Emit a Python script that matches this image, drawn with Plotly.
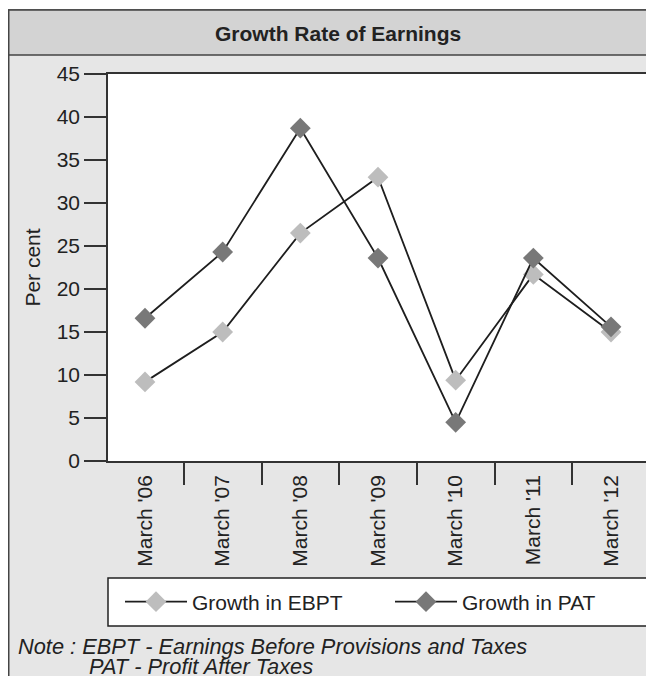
import plotly.graph_objects as go

# ======================================================
# Data
# ======================================================
categories = ["March '06", "March '07", "March '08", "March '09",
              "March '10", "March '11", "March '12"]
growth_ebpt = [9.2, 15.0, 26.5, 33.0, 9.4, 21.7, 15.0]
growth_pat = [16.6, 24.3, 38.7, 23.6, 4.5, 23.6, 15.6]

# ======================================================
# Geometry helpers
# page has an 8px body margin, so the figure is 646x668
# and reference pixel coords are shifted by 8
# ======================================================
OFF = 8
W, H = 654 - OFF, 676 - OFF
L, R, T, B = 108 - OFF, 648 - OFF, 74 - OFF, 461 - OFF


def px(x):
    # reference pixel x -> paper
    return (x - OFF - L) / (R - L)


def py(y):
    # reference pixel y -> paper
    return (B - (y - OFF)) / (B - T)


FONT = "Liberation Sans, Arial, Helvetica, sans-serif"
INK = "#222222"
LINE = "#1e1e1e"

fig = go.Figure()

fig.add_trace(
    go.Scatter(
        x=categories,
        y=growth_ebpt,
        mode="lines+markers",
        name="Growth in EBPT",
        legend="legend",
        line=dict(color=LINE, width=1.8),
        marker=dict(symbol="diamond", size=16, color="#bdbdbd"),
    )
)

fig.add_trace(
    go.Scatter(
        x=categories,
        y=growth_pat,
        mode="lines+markers",
        name="Growth in PAT",
        legend="legend2",
        line=dict(color=LINE, width=1.8),
        marker=dict(symbol="diamond", size=16, color="#787878"),
    )
)

# ======================================================
# Frame decorations
# ======================================================
shapes = [
    # white strip above the frame
    dict(type="rect", xref="paper", yref="paper",
         x0=px(0), x1=px(700), y0=py(0), y1=py(10),
         fillcolor="white", line=dict(width=0), layer="below"),
    # outer frame border
    dict(type="rect", xref="paper", yref="paper",
         x0=px(8.75), x1=px(700), y0=py(10), y1=py(720),
         line=dict(color="#444444", width=1.5), layer="below"),
    # title band
    dict(type="rect", xref="paper", yref="paper",
         x0=px(8.75), x1=px(700), y0=py(10), y1=py(55),
         fillcolor="#d3d3d3", line=dict(color="#444444", width=1.5),
         layer="below"),
    # legend box
    dict(type="rect", xref="paper", yref="paper",
         x0=px(108), x1=px(648), y0=py(578), y1=py(626),
         fillcolor="white", line=dict(color="#222222", width=1.5),
         layer="below"),
]

annotations = [
    dict(text="<b>Growth Rate of Earnings</b>", xref="paper", yref="paper",
         x=px(338), y=py(33), xanchor="center", yanchor="middle",
         showarrow=False, font=dict(size=21, color=INK, family=FONT)),
    dict(text="<i>Note : EBPT - Earnings Before Provisions and Taxes</i>",
         xref="paper", yref="paper", x=px(16), y=py(646),
         xanchor="left", yanchor="middle", showarrow=False,
         font=dict(size=21.8, color=INK, family=FONT)),
    dict(text="<i>PAT - Profit After Taxes</i>",
         xref="paper", yref="paper", x=px(87), y=py(666),
         xanchor="left", yanchor="middle", showarrow=False,
         font=dict(size=21.8, color=INK, family=FONT)),
]

legend_style = dict(
    orientation="h",
    yanchor="middle",
    xanchor="left",
    bgcolor="rgba(0,0,0,0)",
    font=dict(size=21),
    itemwidth=62,
)

# ======================================================
# Layout
# ======================================================
fig.update_layout(
    width=W,
    height=H,
    margin=dict(l=L, r=W - R, t=T, b=H - B, autoexpand=False),
    paper_bgcolor="#e6e6e6",
    plot_bgcolor="white",
    font=dict(family=FONT, size=21, color=INK),
    shapes=shapes,
    annotations=annotations,
    showlegend=True,
    legend=dict(x=px(120), y=py(602), **legend_style),
    legend2=dict(x=px(390), y=py(602), **legend_style),
)

fig.update_xaxes(
    type="category",
    tickangle=-90,
    tickson="boundaries",
    ticks="outside",
    ticklen=22,
    tickwidth=1.5,
    tickcolor="#333333",
    ticklabelstandoff=4,
    showline=True,
    linecolor="#333333",
    linewidth=1.5,
    mirror=True,
    showgrid=False,
    tickfont=dict(size=21),
)

fig.update_yaxes(
    range=[0, 45],
    dtick=5,
    ticks="outside",
    ticklen=22,
    tickwidth=1.5,
    tickcolor="#333333",
    showline=True,
    linecolor="#333333",
    linewidth=1.5,
    mirror=True,
    showgrid=False,
    zeroline=False,
    title=dict(text="Per cent", standoff=10, font=dict(size=21)),
    tickfont=dict(size=21),
)

fig.write_html("out.html")
